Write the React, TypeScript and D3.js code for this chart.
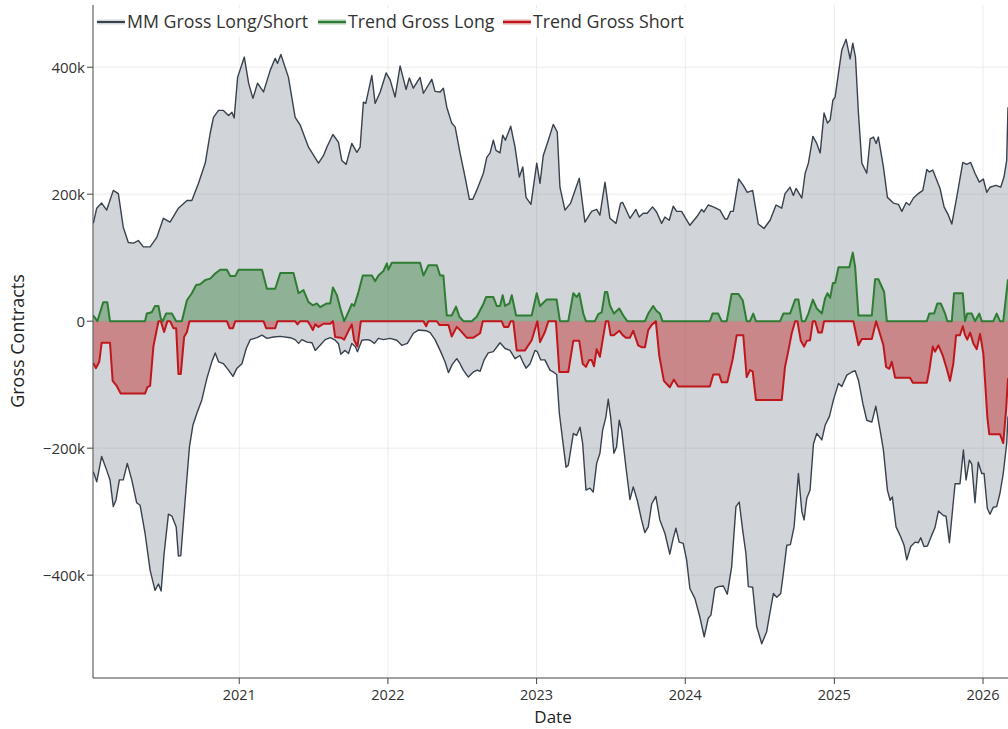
import React from "react";
import * as d3 from "d3";

// Decimal-year dates with values in thousands of contracts
const mmGrossLong: [number, number][] = [
  [2020.021,154],[2020.044,178],[2020.077,186],[2020.111,175],[2020.155,206],[2020.189,201],[2020.222,148],[2020.256,124],
  [2020.290,123],[2020.323,127],[2020.357,117],[2020.402,117],[2020.447,132],[2020.491,162],[2020.536,156],[2020.592,178],
  [2020.649,190],[2020.682,190],[2020.726,217],[2020.772,249],[2020.805,296],[2020.827,321],[2020.861,332],[2020.894,332],
  [2020.928,324],[2020.951,329],[2020.966,320],[2020.989,384],[2021.034,416],[2021.063,375],[2021.092,351],[2021.123,375],
  [2021.163,361],[2021.208,395],[2021.242,414],[2021.257,406],[2021.280,420],[2021.331,384],[2021.376,321],[2021.410,309],
  [2021.466,274],[2021.533,249],[2021.567,261],[2021.589,274],[2021.630,294],[2021.667,282],[2021.690,253],[2021.719,247],
  [2021.757,280],[2021.791,266],[2021.813,274],[2021.835,345],[2021.851,343],[2021.892,387],[2021.914,343],[2021.948,361],
  [2021.988,391],[2022.015,380],[2022.048,353],[2022.082,402],[2022.122,365],[2022.144,383],[2022.171,367],[2022.216,384],
  [2022.239,359],[2022.295,381],[2022.317,362],[2022.351,361],[2022.373,367],[2022.396,337],[2022.429,312],[2022.452,306],
  [2022.485,265],[2022.519,227],[2022.548,192],[2022.571,192],[2022.597,206],[2022.642,233],[2022.665,258],[2022.687,265],
  [2022.709,285],[2022.727,269],[2022.754,265],[2022.772,293],[2022.790,285],[2022.826,307],[2022.855,274],[2022.884,227],
  [2022.907,243],[2022.929,195],[2022.962,184],[2023.001,249],[2023.023,217],[2023.045,261],[2023.079,285],[2023.112,310],
  [2023.139,298],[2023.157,211],[2023.191,175],[2023.229,186],[2023.287,225],[2023.325,156],[2023.370,173],[2023.404,176],
  [2023.426,167],[2023.460,219],[2023.493,162],[2023.534,154],[2023.565,186],[2023.579,187],[2023.628,162],[2023.668,176],
  [2023.690,164],[2023.717,170],[2023.744,170],[2023.780,180],[2023.807,172],[2023.841,154],[2023.863,164],[2023.892,159],
  [2023.919,181],[2023.942,173],[2023.975,173],[2024.031,151],[2024.076,164],[2024.110,176],[2024.125,172],[2024.154,183],
  [2024.188,180],[2024.233,175],[2024.266,161],[2024.282,161],[2024.304,173],[2024.322,173],[2024.358,224],[2024.389,214],
  [2024.416,203],[2024.452,206],[2024.490,153],[2024.528,146],[2024.569,159],[2024.609,183],[2024.647,178],[2024.669,201],
  [2024.703,211],[2024.725,198],[2024.743,209],[2024.782,194],[2024.804,233],[2024.826,249],[2024.856,291],[2024.882,280],
  [2024.905,265],[2024.931,328],[2024.954,312],[2024.972,317],[2024.990,348],[2025.005,353],[2025.028,391],[2025.050,427],
  [2025.079,444],[2025.106,413],[2025.124,438],[2025.142,416],[2025.162,328],[2025.185,249],[2025.218,233],[2025.241,287],
  [2025.263,290],[2025.281,280],[2025.296,290],[2025.330,243],[2025.357,195],[2025.397,186],[2025.431,184],[2025.454,173],
  [2025.483,187],[2025.505,183],[2025.532,194],[2025.565,201],[2025.595,206],[2025.622,239],[2025.639,235],[2025.662,238],
  [2025.689,222],[2025.711,209],[2025.738,180],[2025.767,167],[2025.790,153],[2025.823,195],[2025.864,250],[2025.890,247],
  [2025.917,250],[2025.946,233],[2025.975,219],[2026.002,224],[2026.025,203],[2026.047,211],[2026.087,214],[2026.119,211],
  [2026.141,227],[2026.159,253],[2026.168,337],
];

const mmGrossShort: [number, number][] = [
  [2020.021,-237],[2020.044,-253],[2020.077,-213],[2020.111,-235],[2020.133,-250],[2020.155,-292],[2020.173,-282],[2020.196,-250],
  [2020.222,-250],[2020.249,-224],[2020.279,-250],[2020.312,-286],[2020.335,-290],[2020.368,-334],[2020.402,-392],[2020.435,-424],
  [2020.458,-414],[2020.476,-425],[2020.496,-366],[2020.525,-304],[2020.548,-307],[2020.577,-324],[2020.592,-370],[2020.608,-369],
  [2020.637,-282],[2020.666,-198],[2020.689,-164],[2020.716,-145],[2020.749,-124],[2020.783,-90],[2020.816,-64],[2020.839,-50],
  [2020.861,-64],[2020.894,-67],[2020.928,-77],[2020.958,-87],[2020.985,-74],[2021.018,-67],[2021.047,-43],[2021.074,-29],
  [2021.119,-26],[2021.153,-22],[2021.186,-27],[2021.231,-25],[2021.276,-24],[2021.343,-26],[2021.376,-29],[2021.399,-35],
  [2021.421,-29],[2021.455,-33],[2021.489,-34],[2021.511,-46],[2021.544,-38],[2021.578,-29],[2021.612,-26],[2021.645,-30],
  [2021.667,-35],[2021.683,-52],[2021.712,-46],[2021.735,-51],[2021.757,-35],[2021.780,-40],[2021.795,-48],[2021.825,-30],
  [2021.858,-29],[2021.880,-30],[2021.909,-35],[2021.936,-27],[2021.970,-29],[2022.015,-27],[2022.060,-30],[2022.093,-38],
  [2022.131,-35],[2022.171,-19],[2022.205,-14],[2022.257,-15],[2022.284,-18],[2022.317,-29],[2022.351,-46],[2022.384,-64],
  [2022.407,-81],[2022.433,-68],[2022.463,-59],[2022.485,-67],[2022.507,-77],[2022.541,-88],[2022.575,-80],[2022.601,-77],
  [2022.620,-79],[2022.647,-61],[2022.675,-50],[2022.709,-48],[2022.754,-34],[2022.788,-43],[2022.821,-46],[2022.855,-59],
  [2022.888,-54],[2022.907,-64],[2022.929,-74],[2022.956,-67],[2022.989,-46],[2023.005,-48],[2023.028,-61],[2023.056,-61],
  [2023.090,-77],[2023.112,-80],[2023.135,-84],[2023.153,-145],[2023.175,-187],[2023.198,-230],[2023.213,-227],[2023.247,-177],
  [2023.269,-180],[2023.292,-167],[2023.310,-193],[2023.332,-266],[2023.359,-263],[2023.381,-269],[2023.404,-224],[2023.426,-208],
  [2023.444,-172],[2023.466,-151],[2023.482,-123],[2023.498,-151],[2023.520,-208],[2023.538,-198],[2023.556,-156],[2023.572,-172],
  [2023.601,-230],[2023.628,-281],[2023.650,-261],[2023.677,-282],[2023.706,-313],[2023.728,-333],[2023.751,-324],[2023.774,-288],
  [2023.802,-276],[2023.829,-313],[2023.863,-334],[2023.896,-367],[2023.915,-346],[2023.937,-326],[2023.959,-348],[2023.986,-350],
  [2024.009,-376],[2024.031,-421],[2024.065,-437],[2024.098,-466],[2024.127,-497],[2024.154,-468],[2024.172,-463],[2024.199,-421],
  [2024.221,-418],[2024.255,-417],[2024.282,-430],[2024.311,-387],[2024.340,-292],[2024.362,-285],[2024.385,-329],[2024.407,-366],
  [2024.423,-418],[2024.452,-419],[2024.479,-481],[2024.513,-508],[2024.546,-489],[2024.569,-458],[2024.591,-429],[2024.614,-435],
  [2024.640,-429],[2024.658,-397],[2024.681,-353],[2024.705,-352],[2024.730,-324],[2024.759,-240],[2024.782,-300],[2024.797,-313],
  [2024.815,-279],[2024.837,-266],[2024.860,-193],[2024.882,-177],[2024.916,-187],[2024.938,-164],[2024.967,-150],[2024.994,-124],
  [2025.028,-98],[2025.050,-103],[2025.084,-85],[2025.118,-80],[2025.140,-78],[2025.162,-93],[2025.192,-130],[2025.218,-156],
  [2025.252,-159],[2025.279,-134],[2025.308,-172],[2025.330,-203],[2025.357,-266],[2025.375,-282],[2025.390,-277],[2025.415,-324],
  [2025.447,-340],[2025.469,-353],[2025.487,-376],[2025.514,-355],[2025.543,-348],[2025.565,-349],[2025.581,-341],[2025.603,-355],
  [2025.626,-354],[2025.655,-337],[2025.677,-325],[2025.700,-299],[2025.733,-306],[2025.751,-307],[2025.774,-349],[2025.796,-295],
  [2025.812,-256],[2025.845,-256],[2025.868,-203],[2025.886,-250],[2025.908,-219],[2025.924,-225],[2025.946,-286],[2025.968,-222],
  [2025.991,-240],[2026.007,-240],[2026.029,-295],[2026.047,-304],[2026.069,-293],[2026.092,-292],[2026.114,-271],[2026.136,-240],
  [2026.159,-193],[2026.168,-150],
];

const trendGrossLong: [number, number][] = [
  [2020.021,9],[2020.048,0],[2020.088,30],[2020.115,30],[2020.133,0],[2020.368,0],[2020.380,12],[2020.413,14],
  [2020.435,24],[2020.458,24],[2020.474,4],[2020.487,0],[2020.509,12],[2020.548,12],[2020.577,0],[2020.615,0],
  [2020.649,33],[2020.682,44],[2020.711,57],[2020.738,58],[2020.772,65],[2020.805,67],[2020.839,75],[2020.872,81],
  [2020.917,81],[2020.940,71],[2020.973,71],[2020.995,81],[2021.153,81],[2021.186,51],[2021.242,51],[2021.276,76],
  [2021.365,76],[2021.399,44],[2021.432,49],[2021.466,30],[2021.495,25],[2021.522,28],[2021.544,22],[2021.589,28],
  [2021.612,28],[2021.630,53],[2021.657,41],[2021.684,17],[2021.706,0],[2021.735,15],[2021.757,27],[2021.773,24],
  [2021.802,46],[2021.831,72],[2021.892,72],[2021.914,63],[2021.936,72],[2021.970,79],[2021.993,91],[2022.003,81],
  [2022.026,92],[2022.216,92],[2022.239,72],[2022.272,88],[2022.329,88],[2022.351,72],[2022.373,72],[2022.396,9],
  [2022.429,9],[2022.458,23],[2022.481,7],[2022.508,0],[2022.564,0],[2022.597,7],[2022.642,27],[2022.660,38],
  [2022.709,38],[2022.732,24],[2022.754,24],[2022.772,41],[2022.788,24],[2022.817,28],[2022.833,41],[2022.862,9],
  [2022.967,9],[2023.001,44],[2023.023,24],[2023.068,34],[2023.135,34],[2023.157,0],[2023.213,0],[2023.247,44],
  [2023.270,38],[2023.287,44],[2023.314,12],[2023.332,0],[2023.392,0],[2023.415,11],[2023.438,14],[2023.460,46],
  [2023.475,46],[2023.493,25],[2023.520,12],[2023.556,20],[2023.583,9],[2023.610,0],[2023.729,0],[2023.751,12],
  [2023.784,24],[2023.807,16],[2023.829,12],[2023.847,0],[2024.165,0],[2024.183,12],[2024.221,12],[2024.244,0],
  [2024.278,0],[2024.311,43],[2024.356,43],[2024.385,33],[2024.412,0],[2024.434,0],[2024.456,12],[2024.474,0],
  [2024.636,0],[2024.658,12],[2024.703,12],[2024.737,34],[2024.759,34],[2024.782,0],[2024.804,0],[2024.826,12],
  [2024.856,34],[2024.882,20],[2024.916,12],[2024.938,36],[2024.954,44],[2024.972,37],[2024.990,60],[2025.005,60],
  [2025.028,85],[2025.101,85],[2025.124,108],[2025.140,85],[2025.162,9],[2025.252,9],[2025.274,66],[2025.296,66],
  [2025.335,46],[2025.353,0],[2025.622,0],[2025.639,12],[2025.671,12],[2025.693,28],[2025.716,28],[2025.745,12],
  [2025.760,0],[2025.790,0],[2025.805,44],[2025.864,44],[2025.879,0],[2025.894,12],[2025.924,12],[2025.946,0],
  [2025.975,12],[2025.991,0],[2026.069,0],[2026.092,12],[2026.114,0],[2026.136,0],[2026.168,66],
];

const trendGrossShort: [number, number][] = [
  [2020.021,-66],[2020.039,-74],[2020.061,-64],[2020.077,-34],[2020.133,-34],[2020.151,-94],[2020.178,-102],[2020.205,-114],
  [2020.368,-114],[2020.384,-104],[2020.402,-102],[2020.424,-40],[2020.458,0],[2020.474,0],[2020.496,-17],[2020.518,0],
  [2020.536,0],[2020.558,-11],[2020.577,-11],[2020.592,-83],[2020.608,-83],[2020.630,-25],[2020.649,-17],[2020.666,0],
  [2020.917,0],[2020.935,-11],[2020.958,-11],[2020.973,0],[2021.163,0],[2021.181,-11],[2021.242,-11],[2021.257,0],
  [2021.376,0],[2021.392,-5],[2021.410,0],[2021.459,0],[2021.477,-6],[2021.495,-14],[2021.511,-5],[2021.533,-9],
  [2021.567,-4],[2021.612,-4],[2021.630,0],[2021.645,-25],[2021.684,-26],[2021.706,-29],[2021.735,-15],[2021.757,-5],
  [2021.773,-30],[2021.795,-40],[2021.818,0],[2022.239,0],[2022.257,-8],[2022.272,0],[2022.329,0],[2022.346,-6],
  [2022.407,-6],[2022.429,-24],[2022.463,-9],[2022.485,-14],[2022.530,-26],[2022.575,-26],[2022.620,-19],[2022.638,0],
  [2022.765,0],[2022.781,-9],[2022.810,-9],[2022.826,0],[2022.843,0],[2022.866,-46],[2022.922,-46],[2022.967,-30],
  [2023.005,0],[2023.023,-33],[2023.056,-17],[2023.079,0],[2023.130,0],[2023.153,-80],[2023.213,-80],[2023.247,-31],
  [2023.287,-31],[2023.310,-67],[2023.332,-72],[2023.354,-61],[2023.370,-61],[2023.386,-71],[2023.404,-44],[2023.426,-56],
  [2023.444,-30],[2023.466,0],[2023.482,0],[2023.498,-22],[2023.520,-22],[2023.556,-15],[2023.579,-22],[2023.601,-26],
  [2023.628,-26],[2023.650,-15],[2023.683,-38],[2023.706,-41],[2023.729,-41],[2023.751,-14],[2023.774,-6],[2023.802,0],
  [2023.825,-54],[2023.856,-94],[2023.896,-104],[2023.923,-92],[2023.952,-103],[2024.165,-103],[2024.188,-84],[2024.228,-84],
  [2024.244,-96],[2024.282,-96],[2024.318,-60],[2024.345,-22],[2024.389,-22],[2024.412,-88],[2024.434,-77],[2024.452,-79],
  [2024.474,-124],[2024.647,-124],[2024.669,-72],[2024.692,-46],[2024.714,-19],[2024.737,0],[2024.752,0],[2024.775,-31],
  [2024.797,-40],[2024.815,-31],[2024.837,-30],[2024.856,0],[2024.871,0],[2024.893,-18],[2024.916,-18],[2024.931,0],
  [2025.128,0],[2025.162,-38],[2025.185,-28],[2025.252,-28],[2025.281,0],[2025.303,-17],[2025.330,-38],[2025.348,-72],
  [2025.370,-75],[2025.386,-64],[2025.409,-89],[2025.509,-89],[2025.528,-97],[2025.622,-97],[2025.639,-77],[2025.662,-40],
  [2025.677,-48],[2025.700,-38],[2025.729,-54],[2025.756,-75],[2025.778,-94],[2025.800,-67],[2025.819,-22],[2025.845,-22],
  [2025.864,-8],[2025.879,-22],[2025.894,-29],[2025.913,-18],[2025.935,-35],[2025.958,-44],[2025.980,-20],[2026.002,-51],
  [2026.029,-151],[2026.042,-178],[2026.114,-178],[2026.136,-192],[2026.155,-140],[2026.168,-90],
];

const yTicks = [-400, -200, 0, 200, 400];
const xTickYears = [2021, 2022, 2023, 2024, 2025, 2026];
const xDomainYears: [number, number] = [2020.019, 2026.168];
const yDomain: [number, number] = [-562, 498];

const legendItems = [
  { label: "MM Gross Long/Short", line: "#38424e", fill: "rgba(102,112,125,0.3)" },
  { label: "Trend Gross Long", line: "#2e7d32", fill: "rgba(46,125,50,0.4)" },
  { label: "Trend Gross Short", line: "#c0171c", fill: "rgba(190,20,20,0.4)" },
];

function toDate(y: number): Date {
  const Y = Math.floor(y);
  const s = Date.UTC(Y, 0, 1);
  const e = Date.UTC(Y + 1, 0, 1);
  return new Date(s + (y - Y) * (e - s));
}

const W = 1008, H = 729;
const M = { left: 93, right: 1008, top: 5, bottom: 678 };
const FONT = "'Open Sans', 'DejaVu Sans', sans-serif";

export default function App() {
  const x = d3.scaleUtc().domain(xDomainYears.map(toDate)).range([M.left, M.right]);
  const y = d3.scaleLinear().domain(yDomain).range([M.bottom, M.top]);

  const area = d3.area<[number, number]>().x((d) => x(toDate(d[0]))).y0(y(0)).y1((d) => y(d[1]));
  const line = d3.line<[number, number]>().x((d) => x(toDate(d[0]))).y((d) => y(d[1]));

  const fmt = (v: number) => (v === 0 ? "0" : (v < 0 ? "\u2212" + Math.abs(v) : String(v)) + "k");
  const legendX = [97, 318, 503];

  return (
    <div style={{ position: "absolute", left: 0, top: 0 }}>
      <svg width={W} height={H} style={{ display: "block", background: "#fff" }} fontFamily={FONT}>
        <defs>
          <clipPath id="plot">
            <rect x={M.left} y={M.top} width={M.right - M.left} height={M.bottom - M.top} />
          </clipPath>
        </defs>
        {/* grid */}
        {yTicks.map((t) => (
          <line key={"gy" + t} x1={M.left} x2={M.right} y1={y(t)} y2={y(t)} stroke="#ebebeb" strokeWidth={1} />
        ))}
        {xTickYears.map((t) => (
          <line key={"gx" + t} x1={x(toDate(t))} x2={x(toDate(t))} y1={M.top} y2={M.bottom} stroke="#ebebeb" strokeWidth={1} />
        ))}
        <g clipPath="url(#plot)">
          <path d={area(mmGrossLong) || ""} fill={legendItems[0].fill} />
          <path d={area(mmGrossShort) || ""} fill={legendItems[0].fill} />
          <path d={area(trendGrossShort) || ""} fill={legendItems[2].fill} />
          <path d={area(trendGrossLong) || ""} fill={legendItems[1].fill} />
          <path d={line(mmGrossLong) || ""} fill="none" stroke={legendItems[0].line} strokeWidth={1.4} strokeLinejoin="round" />
          <path d={line(mmGrossShort) || ""} fill="none" stroke={legendItems[0].line} strokeWidth={1.4} strokeLinejoin="round" />
          <path d={line(trendGrossShort) || ""} fill="none" stroke={legendItems[2].line} strokeWidth={2} strokeLinejoin="round" />
          <path d={line(trendGrossLong) || ""} fill="none" stroke={legendItems[1].line} strokeWidth={2} strokeLinejoin="round" />
        </g>
        {/* axes */}
        <line x1={M.left} x2={M.left} y1={M.top} y2={M.bottom} stroke="#444" strokeWidth={1} />
        <line x1={M.left} x2={M.right} y1={M.bottom} y2={M.bottom} stroke="#444" strokeWidth={1} />
        {yTicks.map((t) => (
          <g key={"ty" + t}>
            <line x1={M.left - 6} x2={M.left} y1={y(t)} y2={y(t)} stroke="#444" />
            <text x={M.left - 8} y={y(t)} dy="0.36em" textAnchor="end" fontSize={15} fill="#333">
              {fmt(t)}
            </text>
          </g>
        ))}
        {xTickYears.map((t) => (
          <g key={"tx" + t}>
            <line x1={x(toDate(t))} x2={x(toDate(t))} y1={M.bottom} y2={M.bottom + 6} stroke="#444" />
            <text x={x(toDate(t))} y={M.bottom + 21.5} textAnchor="middle" fontSize={14.5} fill="#333">
              {t}
            </text>
          </g>
        ))}
        <text x={553} y={723} textAnchor="middle" fontSize={17} fill="#222">
          Date
        </text>
        <text transform={`translate(24,341) rotate(-90)`} textAnchor="middle" fontSize={18} fill="#222">
          Gross Contracts
        </text>
        {/* legend */}
        <rect x={95} y={8} width={594} height={29} fill="#fff" opacity={0.8} />
        {legendItems.map((it, i) => (
          <g key={it.label}>
            <rect x={legendX[i]} y={19.5} width={28} height={5} fill={it.fill} />
            <line x1={legendX[i]} x2={legendX[i] + 28} y1={22} y2={22} stroke={it.line} strokeWidth={2} />
            <text x={legendX[i] + 30} y={22} dy="0.36em" fontSize={17.8} fill="#333">
              {it.label}
            </text>
          </g>
        ))}
      </svg>
    </div>
  );
}
